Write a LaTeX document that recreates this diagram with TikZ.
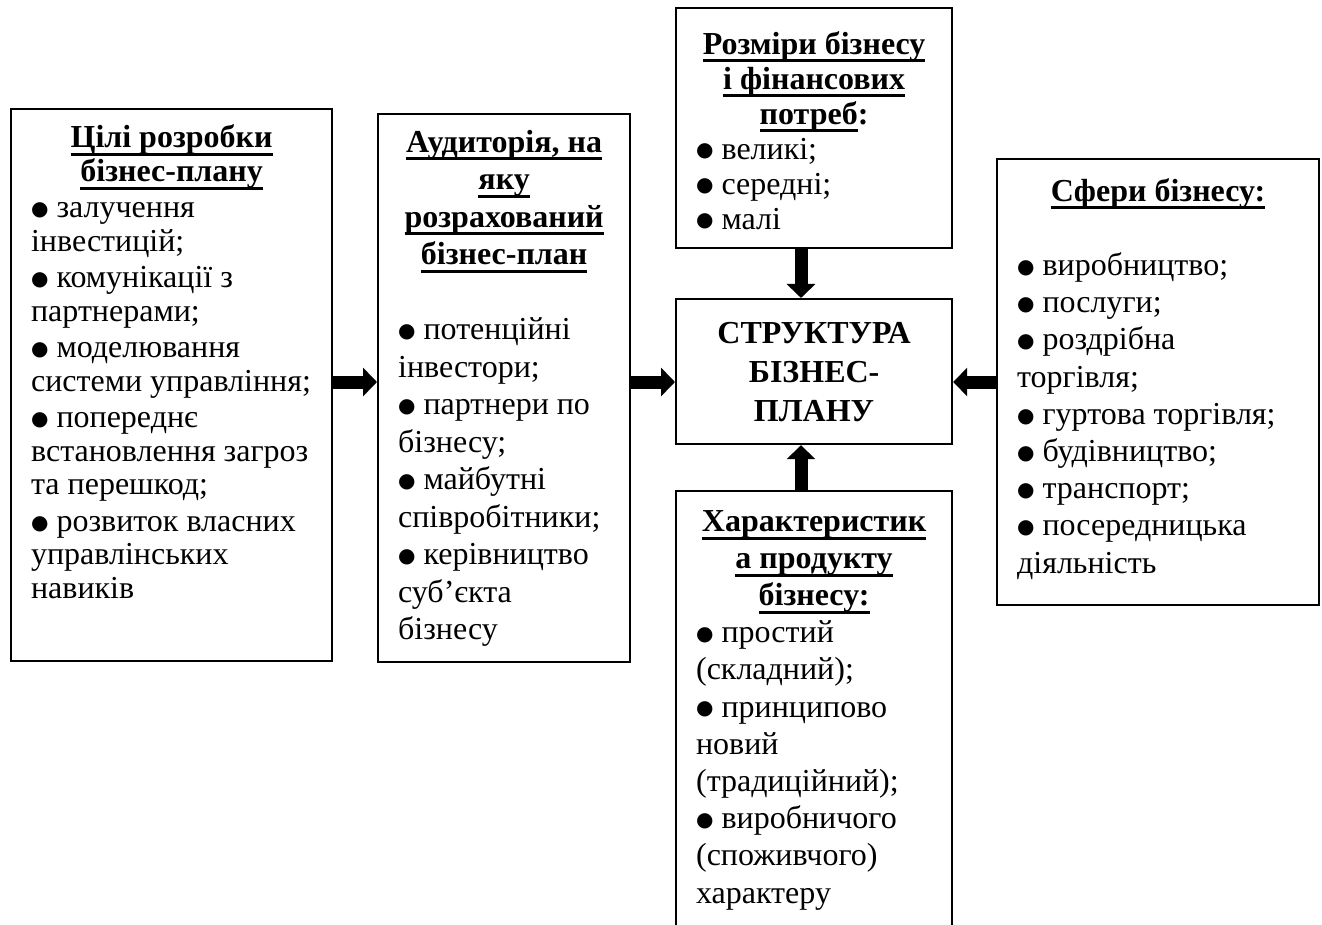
\documentclass[tikz,border=0pt]{standalone}
\usepackage{fontspec}
\setmainfont{Liberation Serif}
\newfontfamily\dotfont{DejaVu Sans}
\usetikzlibrary{arrows.meta,calc}

% underlined heading, centred line, bullet
\newcommand{\hd}[1]{\leavevmode\setbox0\hbox{#1}\rlap{\rule[-4.2pt]{\wd0}{1.5pt}}\box0}
\newcommand{\hc}[1]{\makebox[\linewidth][c]{#1}}
\newcommand{\bl}{\raisebox{1.1pt}{\dotfont\fontsize{10}{10}\selectfont ●}\ }

\begin{document}
\begin{tikzpicture}[x=0.5pt,y=-0.5pt,
  box/.style={draw, line width=1.1pt, anchor=north west, inner xsep=10pt, inner ysep=0pt, font=\fontsize{16}{17}\selectfont},
  bigarrow/.style={line width=6.5pt, -{Triangle[width=14pt,length=7pt]}}]

\useasboundingbox (0,0) rectangle (1322,925);

%Ziele
\node[box] (goals) at (10,108) {\begin{minipage}[t][276pt][t]{140.5pt}
\fontsize{16}{16.75}\selectfont\setlength{\parskip}{1.5pt}
{\bfseries\rule{0pt}{19.35pt}\hc{\hd{Цілі розробки}}\\ \hc{\hd{бізнес-плану}}\par}
\raggedright
\bl залучення\\ інвестицій;\par
\bl комунікації з\\ партнерами;\par
\bl моделювання\\ системи~управління;\par
\bl попереднє\\ встановлення~загроз\\ та перешкод;\par
\bl розвиток власних\\ управлінських\\ навиків
\end{minipage}};

%Auditorium
\node[box] (aud) at (377,113) {\begin{minipage}[t][274pt][t]{106pt}
\fontsize{16}{18.75}\selectfont
{\bfseries\rule{0pt}{19pt}\hc{\hd{Аудиторія, на}}\\ \hc{\hd{яку}}\\ \hc{\hd{розрахований}}\\ \hc{\hd{бізнес-план}}\par}
\raggedright
\mbox{}\\
\bl потенційні\\ інвестори;\\
\bl партнери по\\ бізнесу;\\
\bl майбутні\\ співробітники;\\
\bl керівництво\\ суб’єкта\\ бізнесу
\end{minipage}};

%Groesse
\node[box] (size) at (675,7) {\begin{minipage}[t][120pt][t]{118pt}
\fontsize{16}{17.5}\selectfont
{\bfseries\rule{0pt}{23pt}\hc{\hd{Розміри бізнесу}}\\ \hc{\hd{і фінансових}}\\ \hc{\hd{потреб}:}\par}
\raggedright
\bl великі;\\
\bl середні;\\
\bl малі
\end{minipage}};

%Mitte
\node[box, anchor=north west, minimum width=138pt, minimum height=72.5pt, align=center,
  font=\bfseries\fontsize{16}{19.5}\selectfont] (main) at (675,298) {СТРУКТУРА\\ БІЗНЕС-\\ ПЛАНУ};

%Produkt
\node[box] (prod) at (675,490) {\begin{minipage}[t][225pt][t]{118pt}
\fontsize{16}{18.6}\selectfont
{\bfseries\rule{0pt}{20pt}\hc{\hd{Характеристик}}\\ \hc{\hd{а продукту}}\\ \hc{\hd{бізнесу:}}\par}
\raggedright
\bl простий\\ (складний);\\
\bl принципово\\ новий\\ (традиційний);\\
\bl виробничого\\ (споживчого)\\ характеру
\end{minipage}};

%Sphaeren
\node[box] (field) at (996,158) {\begin{minipage}[t][223pt][t]{141pt}
\fontsize{16}{18.6}\selectfont
{\bfseries\rule{0pt}{21pt}\hc{\hd{Сфери бізнесу:}}\par}
\raggedright
\mbox{}\\
\bl виробництво;\\
\bl послуги;\\
\bl роздрібна\\ торгівля;\\
\bl гуртова~торгівля;\\
\bl будівництво;\\
\bl транспорт;\\
\bl посередницька\\ діяльність
\end{minipage}};

%Pfeile
\coordinate (ay) at (0,382);
\coordinate (ax) at (801,0);
\draw[bigarrow] (goals.east |- ay) -- (aud.west |- ay);
\draw[bigarrow] (aud.east |- ay) -- (main.west |- ay);
\draw[bigarrow] (field.west |- ay) -- (main.east |- ay);
\draw[bigarrow] (size.south -| ax) -- (main.north -| ax);
\draw[bigarrow] (prod.north -| ax) -- (main.south -| ax);

\end{tikzpicture}
\end{document}
